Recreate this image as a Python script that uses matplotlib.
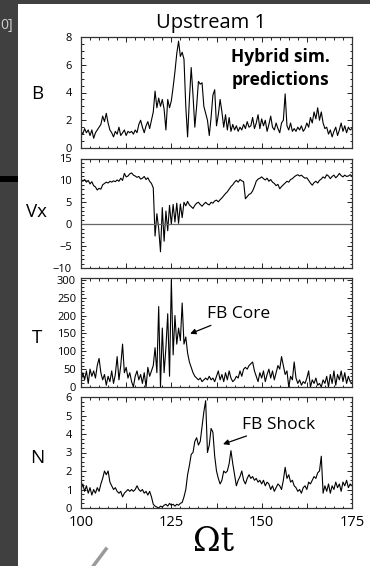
"""Hybrid simulation time series (B, Vx, T, N) for the Upstream 1 foreshock bubble case."""

import matplotlib
matplotlib.use("Agg")
import matplotlib.pyplot as plt
import numpy as np
from matplotlib.lines import Line2D
from matplotlib.patches import Rectangle
from matplotlib.ticker import FuncFormatter, MultipleLocator


FIG_W, FIG_H = 370, 566

# sample times, Omega t = 100 ... 175 every 0.5
t_start, t_stop, t_step = 100.0, 175.0, 0.5

b_field = [
    1.2, 1.0, 1.4, 1.1, 1.3, 0.9, 1.3, 0.7, 1.1, 1.3,
    1.5, 1.7, 2.3, 1.9, 2.5, 1.8, 1.3, 1.1, 0.8, 1.2,
    1.0, 1.5, 0.9, 1.1, 1.3, 0.9, 1.2, 1.1, 1.2, 1.0,
    1.3, 1.1, 1.7, 2.0, 1.5, 1.1, 1.6, 1.9, 1.4, 2.0,
    2.6, 4.1, 2.9, 3.6, 3.0, 3.5, 2.8, 1.3, 3.5, 2.9,
    3.4, 4.4, 5.5, 6.8, 7.7, 6.6, 6.9, 6.4, 3.0, 0.8,
    3.5, 5.8, 3.8, 1.5, 3.0, 4.8, 4.6, 4.7, 3.0, 2.5,
    2.0, 0.9, 2.2, 3.8, 4.2, 1.6, 2.4, 3.5, 2.6, 1.5,
    2.4, 1.3, 2.2, 1.2, 1.7, 1.3, 1.6, 1.2, 1.5, 1.3,
    1.7, 1.4, 1.9, 1.5, 1.6, 2.2, 1.4, 1.8, 2.4, 1.4,
    2.1, 1.6, 2.0, 1.2, 1.7, 2.3, 1.5, 1.3, 1.8, 1.4,
    1.1, 1.8, 2.0, 3.9, 1.6, 1.3, 1.8, 1.2, 1.4, 1.2,
    1.5, 1.3, 1.6, 1.2, 1.4, 1.8, 1.5, 2.2, 1.8, 2.6,
    2.1, 2.9, 2.0, 2.6, 1.8, 1.4, 1.5, 1.0, 1.3, 0.8,
    1.2, 1.5, 0.9, 1.3, 1.8, 1.2, 1.6, 1.1, 1.5, 1.3,
    1.4,
]

vx = [
    10.3, 9.8, 10.2, 9.6, 10.0, 9.2, 9.7, 8.8, 8.5, 7.8,
    8.2, 8.0, 9.0, 9.3, 9.6, 9.4, 9.8, 9.6, 9.9, 9.7,
    10.1, 9.8, 10.5, 10.0, 11.6, 10.8, 11.0, 11.5, 11.7, 11.2,
    11.0, 10.7, 10.9, 10.3, 10.5, 10.9, 10.2, 10.6, 9.8, 9.3,
    8.3, -2.7, 2.4, -1.0, -6.3, 3.8, -3.9, 3.0, -1.5, 4.3,
    0.0, 4.5, 0.5, 4.8, 0.2, 4.6, 1.5, 5.0, 4.2, 5.2,
    4.4, 4.0, 3.6, 4.3, 4.8, 5.0, 4.5, 4.1, 4.6, 5.0,
    4.6, 4.4, 5.0, 4.8, 5.3, 5.5, 5.1, 5.6, 6.0, 6.5,
    7.0, 7.4, 8.0, 8.6, 9.0, 9.6, 10.0, 9.6, 10.2, 9.9,
    9.7, 5.8, 6.3, 6.8, 7.0, 7.6, 8.6, 9.8, 10.3, 10.5,
    10.8, 10.4, 10.1, 10.5, 9.8, 10.2, 9.6, 9.3, 8.8, 9.1,
    8.1, 8.6, 9.0, 9.4, 9.8, 9.6, 10.2, 10.4, 10.8, 11.1,
    11.3, 11.0, 11.2, 10.8, 10.5, 10.6, 10.0, 9.4, 8.9, 9.5,
    9.8, 9.4, 10.0, 10.3, 10.8, 10.5, 11.3, 11.0, 10.4, 10.9,
    11.2, 10.6, 11.0, 11.6, 11.1, 10.8, 11.2, 10.9, 11.0, 11.3,
    11.0,
]

temperature = [
    15, 40, 20, 45, 10, 50, 30, 45, 25, 60,
    80, 40, 20, 35, 5, 30, 15, 45, 10, 35,
    85, 20, 60, 120, 40, 55, 25, 40, 15, 0,
    30, 45, 20, 35, 10, 40, 0, 55, 30, 45,
    60, 110, 40, 225, 0, 165, 40, 110, 205, 30,
    300, 90, 200, 120, 165, 130, 235, 120, 140, 95,
    70, 55, 40, 30, 25, 20, 25, 15, 20, 25,
    20, 30, 20, 25, 15, 30, 45, 20, 35, 15,
    40, 20, 45, 25, 15, 20, 30, 25, 45, 30,
    50, 55, 50, 60, 65, 70, 45, 30, 15, 40,
    25, 45, 15, 35, 50, 25, 45, 20, 40, 60,
    50, 85, 60, 35, 45, 0, 30, 20, 70, 25,
    10, 20, 5, 15, 10, 25, 45, 0, 20, 10,
    25, 5, 10, 0, 20, 10, 30, 0, 35, 10,
    45, 5, 35, 20, 45, 15, 40, 10, 30, 15,
    10,
]

density = [
    1.0, 1.3, 0.9, 1.2, 0.8, 1.1, 0.7, 1.0, 0.8, 1.1,
    0.9, 1.3, 1.6, 2.0, 1.8, 2.0, 1.4, 1.2, 1.0, 1.1,
    0.9, 0.8, 0.9, 0.6, 0.8, 0.9, 1.0, 0.9, 1.0, 0.9,
    1.0, 1.2, 1.0, 0.9, 1.0, 0.8, 0.9, 0.7, 0.9, 0.6,
    0.2, 0.1, 0.05, 0.0, 0.1, 0.05, 0.15, 0.2, 0.1, 0.25,
    0.15, 0.2, 0.1, 0.2, 0.15, 0.25, 0.3, 0.6, 1.0, 1.8,
    2.3, 2.9, 3.0, 3.6, 3.8, 3.4, 3.6, 4.4, 5.2, 5.8,
    3.0, 3.4, 4.3, 4.1, 2.8, 2.0, 1.6, 1.3, 1.5, 2.0,
    1.9, 2.0, 2.4, 3.1, 2.4, 1.8, 1.2, 1.5, 1.7, 2.0,
    1.5, 1.3, 1.6, 1.8, 1.6, 1.7, 1.5, 1.6, 1.4, 1.5,
    1.3, 1.5, 1.2, 1.4, 1.3, 1.0, 1.2, 0.9, 1.1, 1.3,
    1.2, 1.0, 1.5, 2.2, 1.6, 1.8, 1.4, 1.5, 1.2, 1.1,
    0.9, 1.0, 0.8, 1.1, 1.2, 1.0, 1.4, 1.3, 1.5, 1.7,
    1.6, 1.9, 2.0, 2.8, 0.8, 1.2, 0.9, 1.3, 0.8, 1.2,
    1.0, 1.4, 1.1, 1.3, 0.9, 1.4, 1.2, 1.5, 1.1, 1.3,
    1.2,
]

panel_labels = ["B", "Vx", "T", "N"]
panel_ylims = [(0, 8), (-10, 15), (0, 305), (0, 6)]
panel_ymajor = [2, 5, 50, 1]
panel_yminor = [0.5, 1, 10, 0.25]
x_tick_labels = [100, 125, 150, 175]


def px_box(left, top, right, bottom):
    """Pixel box (from top-left) to figure fraction rect."""
    return [left / FIG_W, 1 - bottom / FIG_H, (right - left) / FIG_W, (bottom - top) / FIG_H]


def style_panel(ax, ylim, ymajor, yminor, show_x=False, ypad=6.5):
    ax.set_xlim(t_start, t_stop)
    ax.set_ylim(*ylim)
    ax.xaxis.set_major_locator(MultipleLocator(12.5))
    ax.xaxis.set_minor_locator(MultipleLocator(2.5))
    ax.yaxis.set_major_locator(MultipleLocator(ymajor))
    ax.yaxis.set_minor_locator(MultipleLocator(yminor))
    ax.tick_params(which="both", direction="in", top=True, right=True, width=0.7, colors="#222222")
    ax.tick_params(which="major", length=3.5)
    ax.tick_params(which="minor", length=1.8)
    ax.tick_params(axis="y", labelsize=8, pad=ypad, labelcolor="black")
    if show_x:
        ax.xaxis.set_major_formatter(
            FuncFormatter(lambda v, _: f"{v:.0f}" if round(v) in x_tick_labels and v == round(v) else "")
        )
        ax.tick_params(axis="x", labelsize=10.5, pad=5, labelcolor="black")
    else:
        ax.set_xticklabels([])
    for spine in ax.spines.values():
        spine.set_color("#333333")
        spine.set_linewidth(0.9)


t = np.arange(t_start, t_stop + t_step / 2, t_step)

plt.rcParams["font.family"] = ["Open Sans", "DejaVu Sans"]

fig = plt.figure(figsize=(FIG_W / 100, FIG_H / 100), dpi=100)
fig.patch.set_facecolor("#404040")
fig.patches.append(Rectangle((18 / FIG_W, 0), 1 - 18 / FIG_W, 562 / FIG_H,
                             transform=fig.transFigure, facecolor="white", edgecolor="none", zorder=-5))
fig.patches.append(Rectangle((0, 1 - 181.5 / FIG_H), 17.5 / FIG_W, 5.5 / FIG_H,
                             transform=fig.transFigure, facecolor="black", edgecolor="none", zorder=-4))
fig.lines.append(Line2D([106 / FIG_W, 91 / FIG_W], [1 - 549 / FIG_H, 1 - 569 / FIG_H],
                        transform=fig.transFigure, color="#9a9a9a", lw=2.5))
fig.text(0.5 / FIG_W, 1 - 25 / FIG_H, "0]", ha="left", va="center", color="#d0d0d0", fontsize=10)

boxes = [
    px_box(81, 37, 352, 148),
    px_box(81, 158.5, 352, 268),
    px_box(81, 278, 352, 387),
    px_box(81, 397, 352, 508),
]
label_y = [94, 212, 338, 458]
series = [b_field, vx, temperature, density]
ypads = [6.5, 6.5, 3.5, 6.5]

axes = []
for i, (box, values) in enumerate(zip(boxes, series)):
    ax = fig.add_axes(box)
    ax.plot(t, values, color="black", lw=0.8)
    style_panel(ax, panel_ylims[i], panel_ymajor[i], panel_yminor[i], show_x=(i == 3), ypad=ypads[i])
    fig.text(37 / FIG_W, 1 - label_y[i] / FIG_H, panel_labels[i], ha="center", va="center", fontsize=13.5)
    axes.append(ax)

ax_b, ax_vx, ax_t, ax_n = axes
ax_vx.axhline(0, color="#666666", lw=0.9)

ax_b.text(0.735, 0.72, "Hybrid sim.\npredictions", transform=ax_b.transAxes, ha="center", va="center",
          fontsize=12.5, fontweight="bold", linespacing=1.35)

ax_t.annotate("FB Core", xy=(130.2, 149), xytext=(135.0, 204), fontsize=12.5, va="center", ha="left",
              arrowprops=dict(arrowstyle="-|>", color="black", lw=0.9, mutation_scale=8, shrinkA=1, shrinkB=0))
ax_n.annotate("FB Shock", xy=(139.3, 3.45), xytext=(144.6, 4.5), fontsize=12.5, va="center", ha="left",
              arrowprops=dict(arrowstyle="-|>", color="black", lw=0.9, mutation_scale=8, shrinkA=1, shrinkB=0))

fig.text(211 / FIG_W, 1 - 23 / FIG_H, "Upstream 1", ha="center", va="center", fontsize=14.5)
fig.text(214 / FIG_W, 1 - 542 / FIG_H, "Ωt", ha="center", va="center", fontsize=24, family="DejaVu Serif")

fig.savefig("out.png", dpi=100, facecolor=fig.get_facecolor())
plt.close(fig)
